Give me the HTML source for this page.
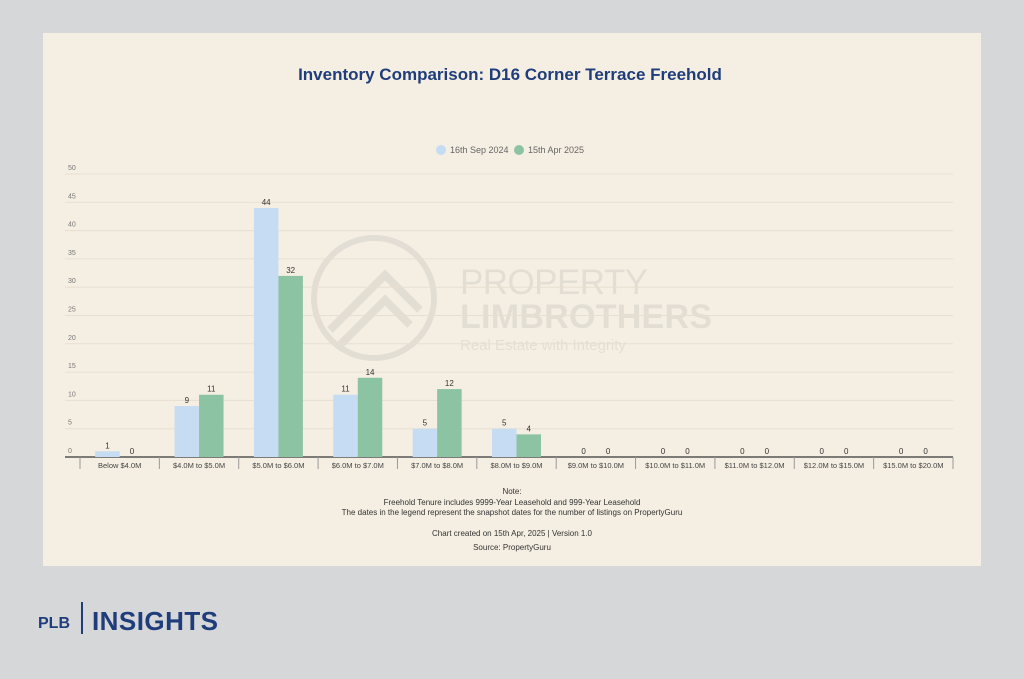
<!DOCTYPE html>
<html><head><meta charset="utf-8"><style>
body{margin:0;width:1024px;height:679px;background:#d6d7d9;font-family:"Liberation Sans",sans-serif;overflow:hidden;position:relative}
#card{position:absolute;left:43px;top:33px;width:938px;height:533px;background:#f5efe3}
</style></head><body>
<div id="card"></div>
<svg width="1024" height="679" style="position:absolute;left:0;top:0">
<text x="510" y="80" text-anchor="middle" font-size="17" font-weight="bold" fill="#1f3d7a">Inventory Comparison: D16 Corner Terrace Freehold</text>
<g font-size="9" fill="#666">
<circle cx="441" cy="150" r="5" fill="#c5dcf3"/>
<text x="450" y="153">16th Sep 2024</text>
<circle cx="519" cy="150" r="5" fill="#8cc3a2"/>
<text x="528" y="153">15th Apr 2025</text>
</g>
<g opacity="0.4">
<circle cx="374" cy="298" r="60" fill="none" stroke="#c9c6c0" stroke-width="6"/>
<path d="M330 330 L385 275 L420 310 M340 345 L385 300 L410 325" stroke="#c9c6c0" stroke-width="8" fill="none"/>
<text x="460" y="294" font-size="35" fill="#c9c6c0" textLength="188">PROPERTY</text>
<text x="460" y="328" font-size="34" font-weight="bold" fill="#c9c6c0" textLength="252">LIMBROTHERS</text>
<text x="460" y="350" font-size="15" fill="#c9c6c0">Real Estate with Integrity</text>
</g>
<g id="grid"></g><g id="bars"></g>
<g font-size="8" fill="#333" text-anchor="middle">
<text x="512" y="494">Note:</text>
<text x="512" y="505">Freehold Tenure includes 9999-Year Leasehold and 999-Year Leasehold</text>
<text x="512" y="515">The dates in the legend represent the snapshot dates for the number of listings on PropertyGuru</text>
<text x="512" y="536">Chart created on 15th Apr, 2025 | Version 1.0</text>
<text x="512" y="550">Source: PropertyGuru</text>
</g>
<g fill="#1f3d7a" font-weight="bold">
<text x="38" y="628" font-size="16">PLB</text>
<rect x="81" y="602" width="2" height="32"/>
<text x="92" y="630" font-size="26" textLength="126">INSIGHTS</text>
</g>
</svg>
<script>
const categories=["Below $4.0M","$4.0M to $5.0M","$5.0M to $6.0M","$6.0M to $7.0M","$7.0M to $8.0M","$8.0M to $9.0M","$9.0M to $10.0M","$10.0M to $11.0M","$11.0M to $12.0M","$12.0M to $15.0M","$15.0M to $20.0M"];
const sep2024=[1,9,44,11,5,5,0,0,0,0,0];
const apr2025=[0,11,32,14,12,4,0,0,0,0,0];
const yTicks=[0,5,10,15,20,25,30,35,40,45,50];
const NS="http://www.w3.org/2000/svg";
const x0=80,x1=953,y0=457,ys=5.66;
const cw=(x1-x0)/categories.length,bw=24.5;
const Y=v=>y0-v*ys, X=i=>x0+i*cw;
function mk(t,a,p){const e=document.createElementNS(NS,t);for(const k in a)e.setAttribute(k,a[k]);p.appendChild(e);return e;}
const g=document.getElementById('grid'),b=document.getElementById('bars');
yTicks.forEach(v=>{
 const l=mk('line',{x1:65,x2:953,y1:Y(v),y2:Y(v),stroke:v?'#e6dfd1':'#555','stroke-width':v?1:1.5},g);
 
 
 const t=mk('text',{x:68,y:Y(v)-4,'font-size':7,fill:'#777'},g);t.textContent=v;
 
 
});
categories.forEach((c,i)=>{
 const d=mk('line',{x1:X(i),x2:X(i),y1:y0,y2:y0+12,stroke:'#999'},g);
 
 
 const t=mk('text',{x:X(i)+cw/2,y:y0+11,'font-size':7.5,fill:'#444','text-anchor':'middle'},g);t.textContent=c;
 
 
 [[sep2024,'#c5dcf3',-bw],[apr2025,'#8cc3a2',0]].forEach(([s,col,off],k)=>{
  const cx=X(i)+cw/2+off,v=s[i];
  const r=mk('rect',{x:cx,y:Y(v),width:bw,height:v*ys,fill:col},b);
  
  
  const lt=mk('text',{x:cx+bw/2,y:Y(v)-3,'font-size':8,fill:'#333','text-anchor':'middle'},b);lt.textContent=v;
  
  
 });
});
mk('line',{x1:x1,x2:x1,y1:y0,y2:y0+12,stroke:'#999'},g);
</script>
</body></html>
